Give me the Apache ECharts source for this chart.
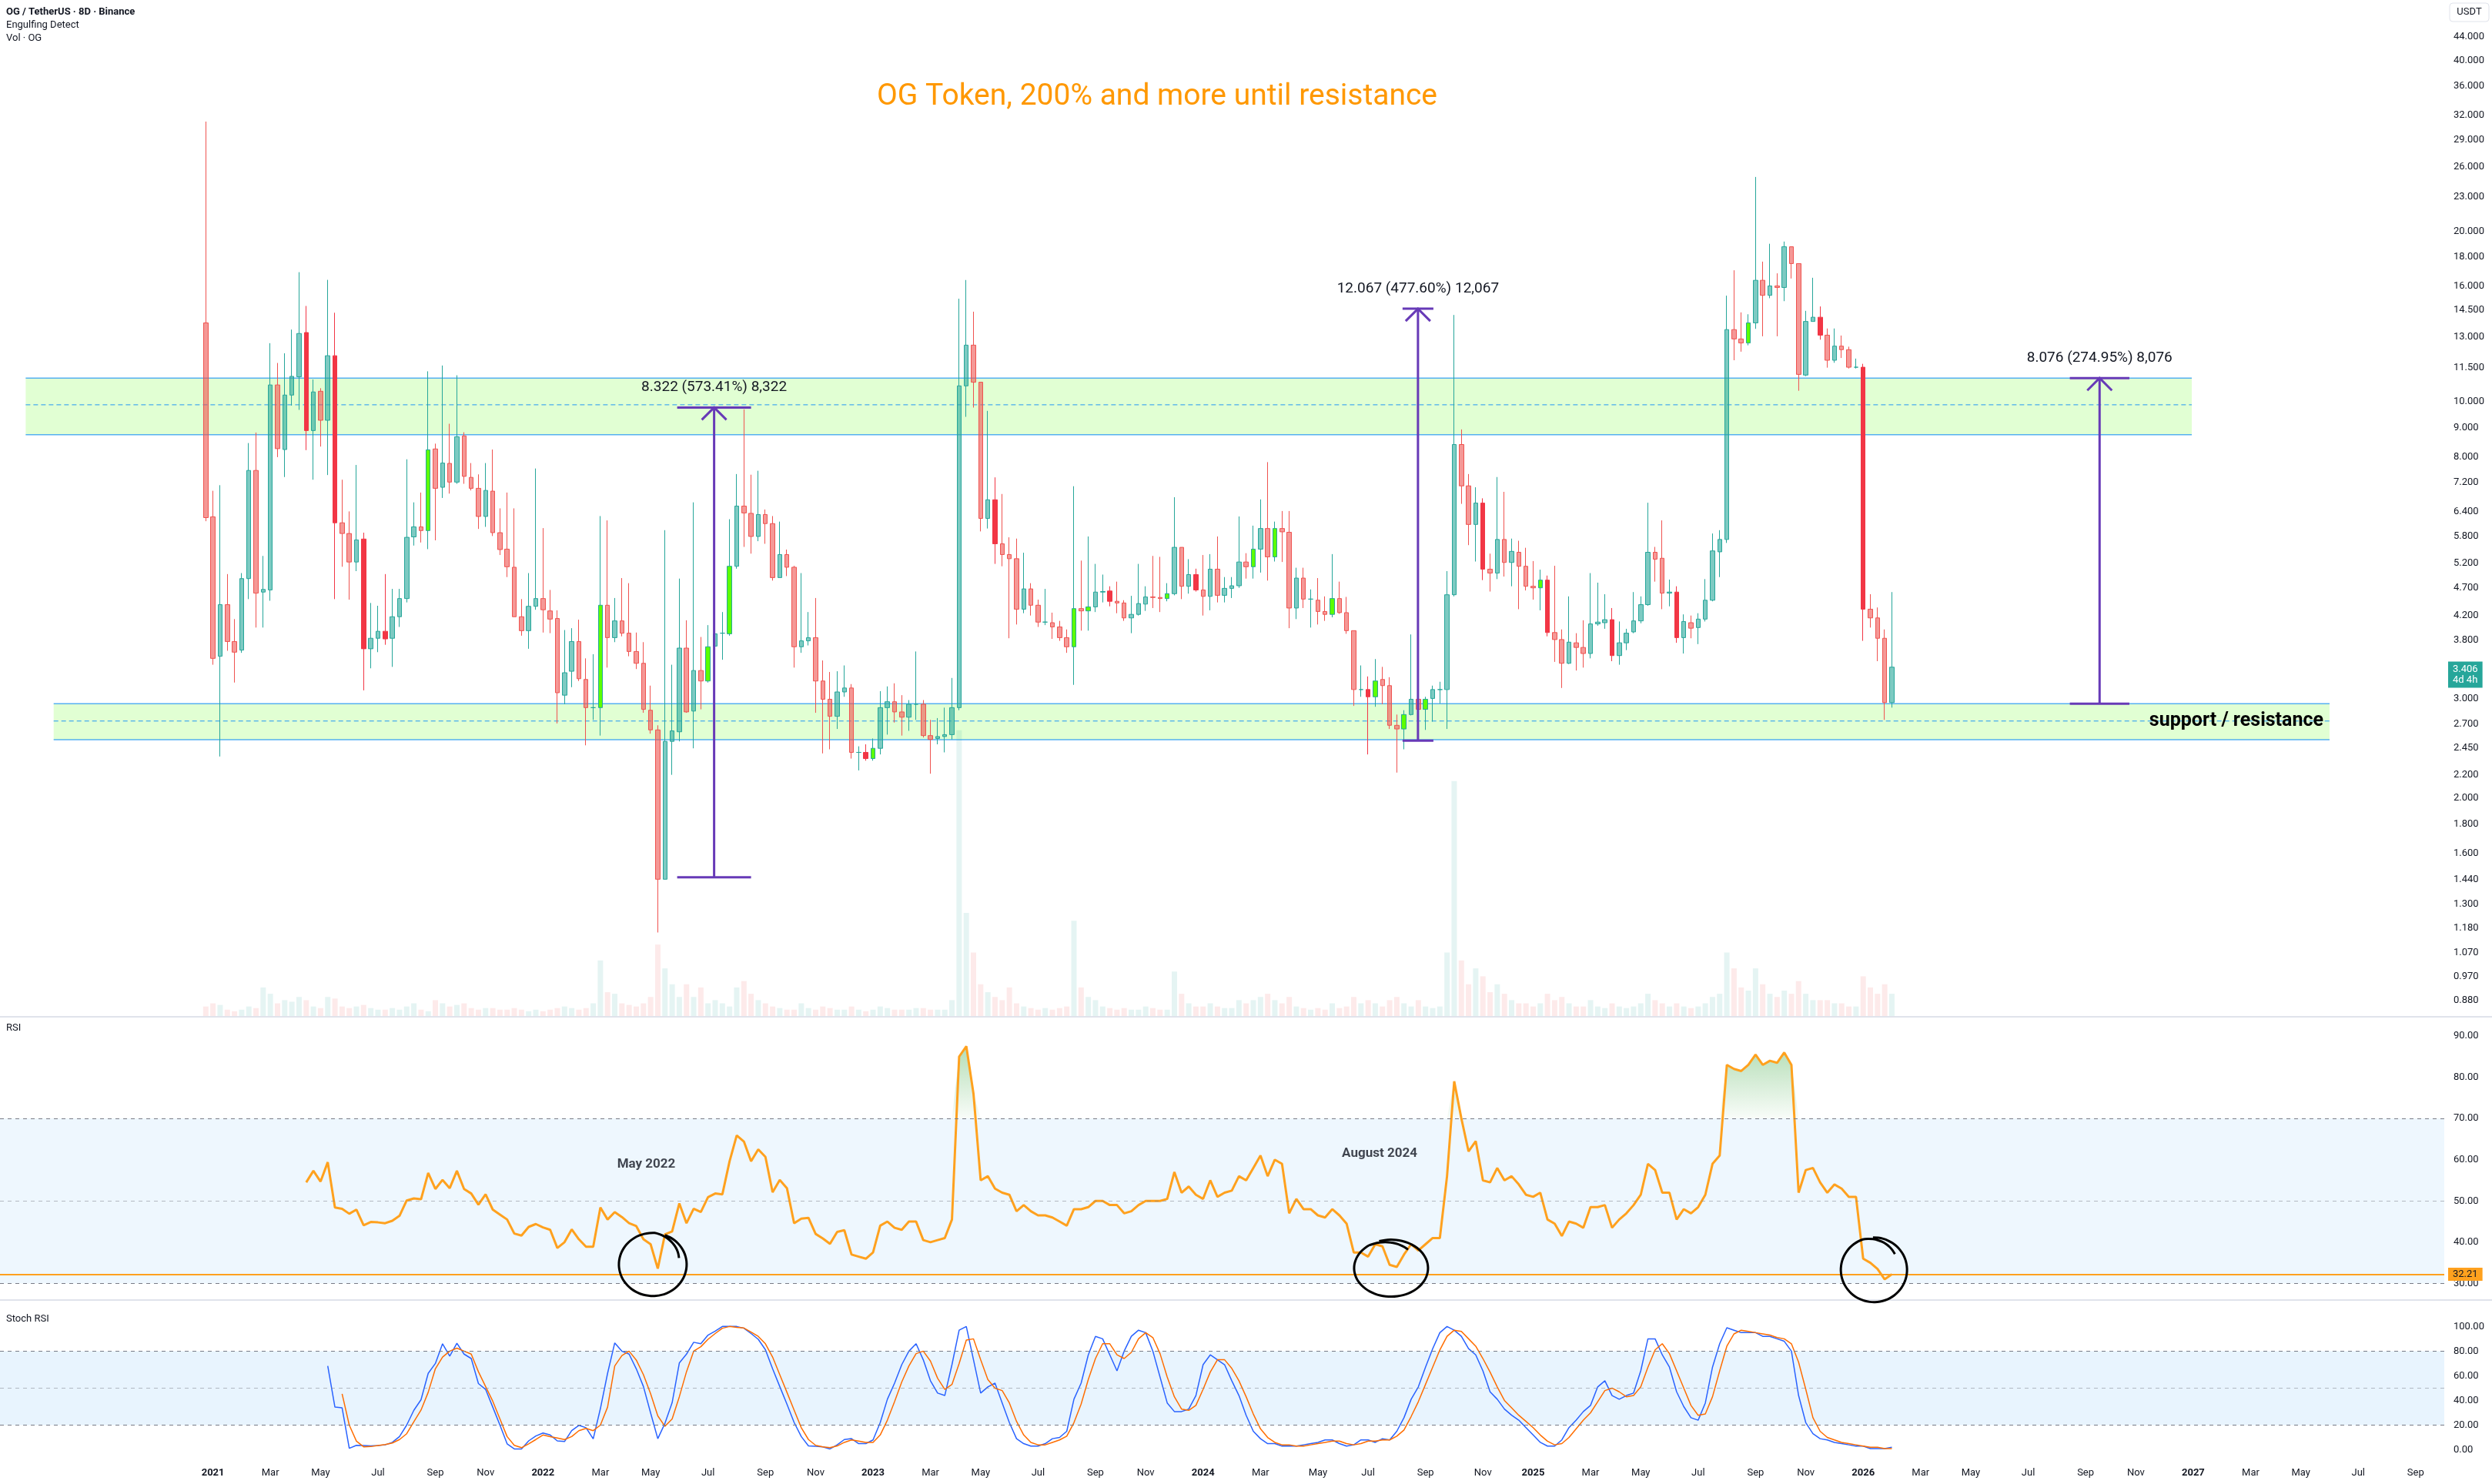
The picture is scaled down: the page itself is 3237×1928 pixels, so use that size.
<!DOCTYPE html>
<html>
<head>
<meta charset="utf-8">
<title>OG / TetherUS 8D</title>
<script src="https://cdn.jsdelivr.net/npm/echarts@6.0.0/dist/echarts.min.js"></script>
<style>
  html, body { margin: 0; padding: 0; background: #ffffff; }
  #chart { width: 3237px; height: 1928px; }
</style>
</head>
<body>
<div id="chart"></div>
<script>
// OG / TetherUS, 8D bars (Binance) with volume, RSI and Stoch RSI panes.
// The x axis counts bars, like TradingView does. 8D bars restart every Jan 1,
// so a year holds 46 bars; bar 0 is the listing bar of late Dec 2020.

var barDays = 8;
var barsPerYear = 46;

// [open, close, low, high]
var candles = [
  [13.78, 6.25, 6.16, 31.2], [6.27, 3.53, 3.44, 6.97], [3.56, 4.39, 2.37, 7.13], [4.39, 3.78, 3.64, 4.97],
  [3.78, 3.62, 3.20, 4.14], [3.65, 4.88, 3.61, 4.99], [4.88, 7.57, 4.49, 8.46], [7.57, 4.60, 4.00, 8.83],
  [4.62, 4.67, 4.00, 5.35], [4.66, 10.71, 4.46, 12.69], [10.71, 8.27, 7.99, 11.71], [8.24, 10.28, 7.37, 12.18],
  [10.28, 11.09, 9.85, 13.41], [11.07, 13.20, 9.68, 16.93], [13.25, 8.90, 8.22, 14.76], [8.90, 10.41, 7.29, 10.95],
  [10.44, 9.28, 8.34, 10.57], [9.28, 12.06, 7.43, 16.41], [12.06, 6.12, 4.49, 14.36], [6.12, 5.86, 5.12, 7.29],
  [5.86, 5.22, 4.48, 6.41], [5.22, 5.71, 5.03, 7.74], [5.73, 3.67, 3.10, 5.88], [3.67, 3.83, 3.39, 4.42],
  [3.83, 3.94, 3.62, 4.37], [3.94, 3.82, 3.73, 4.97], [3.83, 4.18, 3.41, 4.68], [4.18, 4.50, 4.01, 4.68],
  [4.50, 5.77, 4.43, 7.92], [5.78, 6.02, 5.58, 6.65], [6.02, 5.93, 5.65, 6.92], [5.93, 8.23, 5.50, 11.32],
  [8.26, 7.04, 5.70, 8.44], [7.07, 7.80, 6.77, 11.59], [7.79, 7.22, 6.89, 9.15], [7.22, 8.68, 7.17, 11.14],
  [8.71, 7.39, 7.17, 8.84], [7.36, 7.04, 6.98, 7.80], [7.04, 6.28, 5.97, 7.45], [6.28, 6.98, 6.02, 7.80],
  [6.96, 5.88, 5.80, 8.24], [5.88, 5.49, 5.37, 6.49], [5.50, 5.12, 4.91, 6.92], [5.11, 4.18, 4.18, 6.49],
  [4.18, 3.95, 3.87, 4.49], [3.95, 4.36, 3.67, 4.99], [4.36, 4.50, 4.30, 7.63], [4.50, 4.30, 3.92, 5.99],
  [4.28, 4.14, 3.91, 4.66], [4.15, 3.07, 2.71, 4.29], [3.04, 3.33, 2.93, 3.96], [3.35, 3.78, 3.14, 3.99],
  [3.78, 3.25, 3.22, 4.13], [3.24, 2.89, 2.48, 3.53], [2.89, 2.89, 2.75, 3.59], [2.89, 4.38, 2.58, 6.29],
  [4.38, 3.84, 3.40, 6.18], [3.84, 4.11, 3.77, 4.51], [4.11, 3.91, 3.86, 4.89], [3.91, 3.63, 3.56, 4.79],
  [3.63, 3.46, 3.38, 3.92], [3.46, 2.87, 2.83, 3.77], [2.86, 2.64, 2.60, 3.16], [2.64, 1.44, 1.16, 2.69],
  [1.44, 2.52, 1.44, 5.94], [2.52, 2.63, 2.20, 3.44], [2.62, 3.68, 2.52, 4.88], [3.68, 2.84, 2.83, 4.12],
  [2.85, 3.36, 2.45, 6.65], [3.36, 3.22, 2.87, 3.85], [3.22, 3.70, 3.20, 4.04], [3.71, 3.90, 3.22, 3.94],
  [3.91, 3.91, 3.51, 4.26], [3.90, 5.13, 3.87, 6.21], [5.13, 6.55, 5.08, 7.46], [6.55, 6.37, 5.55, 9.70],
  [6.36, 5.79, 5.40, 7.44], [5.79, 6.33, 5.68, 7.56], [6.33, 6.10, 5.62, 6.46], [6.10, 4.90, 4.84, 6.29],
  [4.90, 5.38, 4.90, 6.15], [5.38, 5.11, 4.93, 5.49], [5.11, 3.70, 3.40, 5.14], [3.70, 3.79, 3.61, 4.99],
  [3.79, 3.84, 3.72, 4.26], [3.84, 3.22, 2.83, 4.51], [3.22, 2.99, 2.40, 3.50], [2.99, 2.79, 2.44, 3.34],
  [2.79, 3.08, 2.65, 3.35], [3.08, 3.13, 3.02, 3.43], [3.13, 2.41, 2.35, 3.18], [2.41, 2.41, 2.24, 2.47],
  [2.41, 2.35, 2.33, 2.49], [2.35, 2.45, 2.33, 2.55], [2.45, 2.89, 2.39, 3.09], [2.89, 2.96, 2.59, 3.15],
  [2.96, 2.84, 2.72, 3.19], [2.84, 2.78, 2.58, 3.04], [2.78, 2.93, 2.63, 2.98], [2.93, 2.93, 2.75, 3.63],
  [2.93, 2.58, 2.56, 2.98], [2.58, 2.54, 2.21, 2.75], [2.55, 2.57, 2.49, 2.77], [2.57, 2.59, 2.41, 2.89],
  [2.59, 2.89, 2.54, 3.26], [2.89, 10.67, 2.86, 15.20], [10.67, 12.59, 9.41, 16.40], [12.59, 10.83, 9.77, 14.42],
  [10.83, 6.23, 5.91, 10.83], [6.23, 6.72, 5.98, 9.64], [6.72, 5.62, 5.18, 7.36], [5.62, 5.38, 5.13, 6.88],
  [5.38, 5.29, 3.83, 5.77], [5.29, 4.31, 4.05, 5.74], [4.31, 4.68, 4.24, 5.42], [4.68, 4.38, 4.20, 4.79],
  [4.38, 4.09, 4.01, 4.48], [4.09, 4.09, 4.04, 4.68], [4.08, 4.01, 3.82, 4.25], [4.01, 3.84, 3.79, 4.11],
  [3.84, 3.70, 3.61, 3.97], [3.70, 4.32, 3.17, 7.10], [4.32, 4.28, 3.95, 5.25], [4.28, 4.35, 3.95, 5.79],
  [4.35, 4.62, 4.26, 5.18], [4.62, 4.63, 4.43, 4.96], [4.64, 4.45, 4.36, 4.73], [4.45, 4.42, 4.24, 4.82],
  [4.42, 4.16, 4.11, 4.47], [4.16, 4.22, 3.91, 4.55], [4.22, 4.41, 4.20, 5.18], [4.40, 4.53, 4.28, 4.73],
  [4.53, 4.52, 4.33, 5.35], [4.52, 4.50, 4.26, 5.33], [4.50, 4.59, 4.45, 4.79], [4.59, 5.54, 4.56, 6.79],
  [5.54, 4.73, 4.49, 5.54], [4.73, 4.96, 4.59, 5.28], [4.96, 4.66, 4.63, 5.08], [4.66, 4.54, 4.20, 5.37],
  [4.54, 5.07, 4.29, 5.39], [5.07, 4.56, 4.43, 5.79], [4.56, 4.69, 4.43, 4.91], [4.69, 4.74, 4.51, 4.91],
  [4.74, 5.22, 4.70, 6.28], [5.22, 5.12, 4.88, 5.41], [5.12, 5.50, 4.88, 6.05], [5.50, 5.98, 5.00, 6.73],
  [5.98, 5.33, 4.84, 7.83], [5.33, 5.98, 5.23, 6.15], [5.98, 5.90, 5.22, 6.42], [5.89, 4.33, 3.99, 6.42],
  [4.33, 4.89, 4.14, 5.10], [4.89, 4.49, 4.33, 5.10], [4.49, 4.49, 4.00, 4.67], [4.47, 4.27, 4.05, 4.89],
  [4.27, 4.22, 4.11, 4.54], [4.22, 4.50, 4.17, 5.39], [4.50, 4.25, 4.23, 4.82], [4.25, 3.95, 3.90, 4.53],
  [3.95, 3.11, 2.91, 3.95], [3.11, 3.11, 3.02, 3.43], [3.11, 3.02, 2.39, 3.28], [3.02, 3.22, 2.90, 3.52],
  [3.24, 3.16, 2.93, 3.41], [3.16, 2.69, 2.65, 3.27], [2.69, 2.65, 2.22, 2.81], [2.65, 2.81, 2.44, 2.86],
  [2.81, 2.99, 2.80, 3.89], [2.99, 2.87, 2.71, 3.34], [2.87, 2.99, 2.64, 3.02], [3.00, 3.11, 2.73, 3.16],
  [3.11, 3.11, 2.94, 3.21], [3.11, 4.57, 2.65, 5.03], [4.57, 8.41, 4.54, 14.23], [8.41, 7.11, 6.61, 8.94],
  [7.11, 6.08, 5.59, 7.46], [6.08, 6.63, 5.23, 7.07], [6.63, 5.07, 4.85, 6.76], [5.07, 4.99, 4.63, 5.40],
  [4.99, 5.72, 4.87, 7.37], [5.72, 5.21, 4.92, 6.94], [5.21, 5.45, 4.73, 5.74], [5.43, 5.13, 4.31, 5.69],
  [5.13, 4.73, 4.65, 5.53], [4.73, 4.70, 4.48, 5.24], [4.70, 4.85, 4.29, 5.06], [4.85, 3.92, 3.86, 4.94],
  [3.92, 3.81, 3.48, 5.14], [3.81, 3.46, 3.13, 3.97], [3.46, 3.77, 3.45, 4.54], [3.76, 3.69, 3.36, 3.91],
  [3.69, 3.60, 3.40, 4.12], [3.60, 4.06, 3.53, 4.99], [4.06, 4.09, 4.03, 4.80], [4.08, 4.13, 3.98, 4.58],
  [4.13, 3.57, 3.49, 4.33], [3.57, 3.76, 3.44, 4.10], [3.76, 3.91, 3.65, 3.98], [3.93, 4.11, 3.91, 4.62],
  [4.11, 4.39, 4.07, 4.54], [4.39, 5.43, 4.37, 6.64], [5.43, 5.28, 4.82, 5.55], [5.30, 4.60, 4.31, 6.18],
  [4.60, 4.62, 4.36, 4.86], [4.62, 3.84, 3.76, 4.73], [3.84, 4.10, 3.60, 4.22], [4.08, 3.99, 3.83, 4.20],
  [4.00, 4.14, 3.74, 4.24], [4.14, 4.47, 4.10, 4.87], [4.47, 5.46, 4.45, 5.86], [5.44, 5.72, 4.91, 5.94],
  [5.72, 13.41, 5.64, 15.39], [13.41, 12.91, 11.84, 17.06], [12.91, 12.70, 12.26, 14.38], [12.70, 13.78, 12.58, 14.27],
  [13.78, 16.38, 13.45, 24.92], [16.38, 15.41, 13.05, 17.67], [15.41, 16.01, 15.23, 19.00], [16.01, 15.91, 13.05, 16.85],
  [15.91, 18.77, 15.05, 19.17], [18.77, 17.53, 16.50, 18.77], [17.53, 11.18, 10.46, 17.53], [11.15, 13.86, 11.10, 14.47],
  [13.86, 14.10, 13.86, 16.55], [14.10, 13.11, 12.87, 14.73], [13.11, 11.84, 11.49, 13.47], [11.84, 12.54, 11.72, 13.47],
  [12.54, 12.36, 11.95, 13.09], [12.36, 11.51, 11.45, 12.51], [11.51, 11.51, 11.45, 11.92], [11.51, 4.31, 3.79, 11.67],
  [4.31, 4.16, 4.00, 4.58], [4.16, 3.83, 3.49, 4.34], [3.83, 2.95, 2.75, 3.97], [2.95, 3.406, 2.89, 4.62]
];

// bars flagged by the Engulfing Detect script
var bullEngulf = [31, 55, 70, 73, 93, 121, 123, 134, 146, 149, 157, 163, 167, 170, 186, 215];
var bearEngulf = [14, 18, 22, 25, 92, 110, 126, 138, 162, 178, 187, 196, 205, 225, 231];

// volume, relative units
var volumes = [
  6, 8, 7, 4, 3, 4, 6, 5, 18, 14,
  8, 10, 9, 12, 10, 6, 5, 12, 11, 6,
  5, 6, 7, 5, 4, 4, 5, 4, 6, 8,
  4, 3, 10, 8, 6, 7, 8, 5, 4, 5,
  5, 4, 4, 5, 4, 3, 4, 3, 4, 5,
  6, 5, 4, 5, 8, 35, 15, 14, 8, 7,
  6, 8, 12, 45, 30, 20, 12, 20, 12, 18,
  8, 10, 8, 6, 18, 22, 14, 10, 8, 6,
  5, 4, 4, 8, 5, 4, 6, 5, 4, 4,
  6, 4, 3, 4, 6, 5, 4, 4, 4, 5,
  5, 4, 4, 4, 10, 180, 65, 40, 20, 15,
  12, 10, 18, 8, 6, 5, 4, 5, 4, 5,
  6, 60, 18, 12, 10, 6, 5, 4, 5, 4,
  4, 6, 5, 4, 4, 28, 14, 8, 6, 6,
  8, 6, 5, 5, 10, 8, 10, 12, 14, 10,
  8, 12, 6, 5, 4, 5, 4, 8, 5, 6,
  12, 8, 10, 8, 6, 10, 12, 8, 6, 10,
  6, 5, 6, 40, 148, 35, 20, 30, 25, 15,
  20, 14, 10, 8, 8, 6, 8, 14, 10, 12,
  8, 6, 6, 10, 6, 5, 8, 6, 5, 6,
  8, 14, 10, 8, 6, 8, 6, 5, 6, 8,
  12, 14, 40, 30, 18, 16, 30, 20, 14, 12,
  16, 14, 22, 14, 10, 10, 10, 8, 8, 6,
  6, 25, 18, 14, 20, 14
];

// RSI (14)
var rsiValues = [
  null, null, null, null, null, null, null, null, null, null, null, null, null, null,
  54.5, 57.3, 54.7, 59.4, 48.4, 48.1, 46.9, 47.9, 44.1, 44.9,
  44.8, 44.6, 45.2, 46.4, 50.1, 50.6, 50.4, 56.8, 52.9, 55.1,
  53.1, 57.3, 52.9, 51.8, 49.1, 51.6, 47.9, 46.7, 45.5, 42.1,
  41.6, 43.7, 44.4, 43.6, 43.0, 38.6, 40.0, 43.1, 40.7, 38.9,
  38.9, 48.4, 45.5, 47.3, 46.1, 44.6, 43.9, 40.7, 39.5, 33.6,
  41.9, 42.6, 49.4, 44.6, 48.1, 47.3, 50.9, 51.8, 51.6, 59.6,
  65.9, 64.4, 59.6, 62.5, 60.7, 52.1, 55.1, 53.1, 44.6, 45.7,
  45.9, 42.0, 40.9, 39.6, 42.5, 42.9,
  37, 36.5, 36, 37.5, 44, 45, 43.5, 43, 45, 45,
  40.5, 40, 40.5, 41, 45.5, 85, 87.5, 76, 55, 56,
  53, 52, 51.5, 47.5, 49, 47.5, 46.5, 46.5, 46, 45,
  44, 48, 48, 48.5, 50, 50, 49, 49, 47, 47.5,
  49, 50, 50, 50, 50.5, 57, 52, 53.5, 51.5, 50.5,
  55, 51, 52, 52.5, 56, 55, 58, 61, 56, 60,
  59, 47, 50.5, 48, 48, 46.5, 46, 48, 46.5, 44.5,
  37.5, 37.5, 36.5, 39.5, 39, 34.5, 34, 37, 39.5, 38,
  39.5, 41, 41, 56, 79, 70, 62, 64.5, 55, 54.5,
  58, 55, 56, 54, 51.5, 51, 52, 45.5, 44.5, 41.5,
  45, 44.5, 43.5, 48.5, 48.5, 49, 43.5, 45.5, 47, 49,
  51.5, 59, 57.5, 52, 52, 45.5, 48, 47, 48.5, 51.5,
  59, 61, 83, 82, 81.5, 83, 85.5, 83, 84, 83.5,
  86, 83, 52, 57.5, 58, 54.5, 52, 54, 53, 51,
  51, 36, 35, 33.5, 31, 32.21
];

// Stoch RSI %K and %D
var stochK = [
  null, null, null, null, null, null, null, null, null, null, null, null, null, null, null, null, null,
  68, 34.6, 34, 1.2, 3.6, 3.5, 3.2, 3.5, 4, 6, 10.7, 20, 32,
  40.6, 62, 70, 86, 76, 86.4, 77.6, 74, 53.7, 49, 34.6, 20, 4.8,
  0.7, 0.7, 7.2, 11.2, 13.6, 12, 7.2, 6.7, 15.5, 19.8, 17.9, 8.8,
  33.4, 62, 86.7, 80, 77.6, 65.7, 51.3, 29.8, 9, 21.5, 38.2, 70.4,
  77.6, 87.2, 86, 93, 96.2, 100, 100, 100, 98.6, 94.3, 89.6, 81.2,
  65.7, 51.3, 37, 22.2, 10.7, 3.1, 2.9, 2.4, 0.7, 4, 8.3,
  9, 5, 5, 8, 22, 41, 54, 69, 80, 86,
  73, 56, 46, 44, 69, 97, 100, 73, 46, 51,
  54, 38, 22, 9, 5, 3, 3, 5, 9, 10,
  15, 41, 54, 77, 92, 90, 77, 64, 80, 92,
  97, 95, 80, 59, 38, 31, 31, 33, 44, 69,
  77, 73, 69, 56, 44, 28, 15, 9, 5, 5,
  3, 3, 3, 4, 5, 6, 8, 8, 5, 3,
  4, 8, 8, 6, 9, 8, 15, 26, 41, 51,
  67, 82, 95, 100, 97, 92, 82, 77, 64, 47,
  41, 33, 28, 24, 18, 12, 6, 3, 3, 8,
  18, 24, 31, 36, 51, 56, 44, 41, 44, 46,
  64, 90, 90, 77, 67, 47, 35, 26, 24, 38,
  67, 86, 99, 97, 95, 95, 95, 92, 92, 90,
  88, 80, 44, 22, 13, 9, 8, 6, 5, 4,
  3, 3, 1, 1, 1, 2
];
var stochD = [
  null, null, null, null, null, null, null, null, null, null, null, null, null, null, null, null, null, null, null,
  45.4, 20, 7, 2.4, 2.6, 3.5, 4.2, 5.5, 8.3, 13, 22.7,
  32.2, 46.6, 65.7, 75.2, 80, 82.4, 80, 77.6, 63.3, 51.3,
  39.4, 25, 10.7, 3.6, 1.7, 4.8, 8.3, 12, 10.7, 9.5,
  8.3, 10.7, 15.5, 17.4, 15.5, 20, 34.6, 68, 76.4, 80,
  72.8, 60.9, 45.4, 27.5, 19, 25, 43, 63.3, 80, 83.6,
  89.6, 94.3, 98.6, 100, 99.3, 98.8, 95.5, 92, 86, 75.2,
  60.9, 46.6, 32.2, 17.9, 8.3, 3.6, 2.4, 1.7, 3.1, 6,
  8, 7, 6, 6, 12, 24, 39, 55, 68, 78,
  80, 72, 58, 49, 53, 70, 89, 90, 73, 57,
  50, 48, 38, 23, 12, 6, 4, 4, 6, 8,
  11, 22, 37, 57, 74, 86, 86, 77, 74, 79,
  90, 95, 91, 78, 59, 43, 33, 32, 36, 49,
  63, 73, 73, 66, 56, 43, 29, 17, 10, 6,
  4, 4, 3, 3, 4, 5, 6, 7, 7, 5,
  4, 5, 7, 7, 8, 8, 11, 16, 27, 39,
  53, 67, 81, 92, 97, 96, 90, 84, 74, 63,
  51, 40, 34, 28, 23, 18, 12, 7, 4, 5,
  10, 17, 24, 30, 39, 48, 50, 47, 43, 44,
  51, 67, 81, 86, 78, 64, 50, 36, 28, 29,
  43, 64, 84, 94, 97, 96, 95, 94, 93, 91,
  90, 86, 71, 49, 26, 15, 10, 8, 6, 5,
  4, 3, 2, 2, 1, 1
];

// tick labels
var priceTicks = [44, 40, 36, 32, 29, 26, 23, 20, 18, 16, 14.5, 13, 11.5, 10, 9, 8, 7.2, 6.4, 5.8, 5.2,
  4.7, 4.2, 3.8, 3.0, 2.7, 2.45, 2.2, 2.0, 1.8, 1.6, 1.44, 1.3, 1.18, 1.07, 0.97, 0.88];
var rsiTicks = [30, 40, 50, 60, 70, 80, 90];
var stochTicks = [0, 20, 40, 60, 80, 100];
var monthNames = ['Jan', 'Feb', 'Mar', 'Apr', 'May', 'Jun', 'Jul', 'Aug', 'Sep', 'Oct', 'Nov', 'Dec'];

// drawings on the price pane (x in bars)
var zoneStart = [-25.1, -21.2];
var zoneEnd = [276.8, 296.0];
var zoneTop = [11.013, 2.937];
var zoneBottom = [8.75, 2.537];
var zoneText = ['', 'support / resistance'];

// price range measurements
var measureStart = [65.7, 166.8, 259.8];
var measureEnd = [76.0, 171.1, 268.1];
var measureLow = [1.4513, 2.5266, 2.9373];
var measureHigh = [9.7733, 14.594, 11.013];
var measureLabels = ['8.322 (573.41%) 8,322', '12.067 (477.60%) 12,067', '8.076 (274.95%) 8,076'];

// notes on the RSI pane
var noteTexts = ['May 2022', 'August 2024'];
var noteBars = [61.4, 163.6];
var noteValues = [58.8, 61.4];
var circleBars = [62.3, 165.2, 232.5];
var circleValues = [34.6, 33.7, 33.3];

var xMin = -28.68;
var xMax = 311.99;

// ---------------------------------------------------------------

function lg(v) { return Math.log10(v); }

// open date of bar i
function barDate(i) {
  if (i < 1) return new Date(Date.UTC(2020, 11, 26));
  var y = 2021 + Math.floor((i - 1) / barsPerYear);
  var j = (i - 1) % barsPerYear;
  return new Date(Date.UTC(y, 0, 1 + barDays * j));
}

// month labels sit on the first bar of every other month
var monthTicks = [], monthText = {};
for (var b = 1; b <= Math.floor(xMax); b++) {
  var d = barDate(b), p = barDate(b - 1);
  if (d.getUTCMonth() !== p.getUTCMonth() && d.getUTCMonth() % 2 === 0) {
    monthTicks.push(b);
    monthText[b] = d.getUTCMonth() === 0 ? '{yr|' + d.getUTCFullYear() + '}' : monthNames[d.getUTCMonth()];
  }
}

var FONT = 'Roboto, "Noto Sans", sans-serif';
var TEXT = '#131722';
var BULL = '#26A69A', BEAR = '#EF5350';

var candleData = candles.map(function (c, i) {
  var item = { value: [i, lg(c[0]), lg(c[1]), lg(c[2]), lg(c[3])] };
  if (bearEngulf.indexOf(i) >= 0) {
    item.itemStyle = { color: '#F23645', color0: '#F23645', borderColor: '#F23645', borderColor0: '#F23645' };
  } else if (bullEngulf.indexOf(i) >= 0) {
    item.itemStyle = { color: '#5CFF00', color0: '#5CFF00', borderColor: BULL, borderColor0: BULL };
  }
  return item;
});

var volumeData = volumes.map(function (v, i) {
  var up = candles[i][1] >= candles[i][0];
  return { value: [i, v], itemStyle: { color: up ? 'rgba(38,166,154,0.12)' : 'rgba(239,83,80,0.12)' } };
});

function pairs(arr) {
  var out = [];
  arr.forEach(function (v, i) { if (v != null) out.push([i, v]); });
  return out;
}
var rsiData = pairs(rsiValues);
var obData = rsiData.map(function (q) { return [q[0], Math.max(q[1], 70)]; });
var kData = pairs(stochK);
var dData = pairs(stochD);

var zoneData = zoneStart.map(function (s, i) {
  return [s, zoneEnd[i], lg(zoneTop[i]), lg(zoneBottom[i]), lg((zoneTop[i] + zoneBottom[i]) / 2)];
});
var measureData = measureStart.map(function (s, i) {
  return [s, measureEnd[i], lg(measureLow[i]), lg(measureHigh[i])];
});
var noteData = noteTexts.map(function (t, i) {
  return { name: t, value: [noteBars[i], noteValues[i]] };
});
var circleData = circleBars.map(function (s, i) { return [s, circleValues[i]]; });

// hand drawn loops: radius x, radius y, start angle
var loopShape = [[44, 41, -1.2], [48, 37, -1.9], [43, 42, -1.6]];

function renderZone(params, api) {
  var i = params.dataIndex;
  var tl = api.coord([api.value(0), api.value(2)]);
  var br = api.coord([api.value(1), api.value(3)]);
  var ym = api.coord([api.value(0), api.value(4)])[1];
  var edge = { stroke: 'rgba(33,150,243,0.75)', lineWidth: 1.5 };
  var kids = [
    { type: 'rect', shape: { x: tl[0], y: tl[1], width: br[0] - tl[0], height: br[1] - tl[1] },
      style: { fill: 'rgba(170,255,130,0.35)' } },
    { type: 'line', shape: { x1: tl[0], y1: tl[1], x2: br[0], y2: tl[1] }, style: edge },
    { type: 'line', shape: { x1: tl[0], y1: br[1], x2: br[0], y2: br[1] }, style: edge },
    { type: 'line', shape: { x1: tl[0], y1: ym, x2: br[0], y2: ym },
      style: { stroke: '#2196F3', lineWidth: 1, lineDash: [6, 4] } }
  ];
  if (zoneText[i]) {
    kids.push({ type: 'text', x: br[0] - 8, y: ym,
      style: { text: zoneText[i], fill: '#000', font: 'bold 25px ' + FONT, align: 'right', verticalAlign: 'middle' } });
  }
  return { type: 'group', children: kids };
}

function renderMeasure(params, api) {
  var i = params.dataIndex;
  var x0 = api.coord([api.value(0), api.value(3)])[0];
  var x1 = api.coord([api.value(1), api.value(3)])[0];
  var yHi = api.coord([api.value(0), api.value(3)])[1];
  var yLo = api.coord([api.value(0), api.value(2)])[1];
  var xm = (x0 + x1) / 2;
  var st = { stroke: '#673AB7', lineWidth: 3 };
  return { type: 'group', children: [
    { type: 'line', shape: { x1: xm, y1: yLo, x2: xm, y2: yHi }, style: st },
    { type: 'line', shape: { x1: x0, y1: yLo, x2: x1, y2: yLo }, style: st },
    { type: 'line', shape: { x1: x0, y1: yHi, x2: x1, y2: yHi }, style: st },
    { type: 'polyline', shape: { points: [[xm - 16, yHi + 16], [xm, yHi], [xm + 16, yHi + 16]] },
      style: { stroke: '#673AB7', lineWidth: 3, fill: 'none' } },
    { type: 'text', x: xm, y: yHi - 26,
      style: { text: measureLabels[i], fill: TEXT, font: '19px ' + FONT, align: 'center', verticalAlign: 'middle' } }
  ] };
}

function renderLoop(params, api) {
  var c = api.coord([api.value(0), api.value(1)]);
  var s = loopShape[params.dataIndex];
  var pts = [];
  for (var k = 0; k <= 46; k++) {
    var th = s[2] + k / 40 * Math.PI * 2;
    var f = 1 - Math.max(0, k - 38) * 0.025;
    pts.push([c[0] + s[0] * f * Math.cos(th), c[1] + s[1] * f * Math.sin(th)]);
  }
  return { type: 'polyline', shape: { points: pts, smooth: 0.3 },
    style: { stroke: '#000', lineWidth: 3, fill: 'none' } };
}

function hLine(v, color) {
  return { yAxis: v, lineStyle: { color: color, width: 1, type: [5, 5] }, label: { show: false } };
}

var chart = echarts.init(document.getElementById('chart'));

var hiddenX = { type: 'value', min: xMin, max: xMax, show: false, splitLine: { show: false } };

chart.setOption({
  animation: false,
  backgroundColor: '#ffffff',
  textStyle: { fontFamily: FONT },
  grid: [
    { left: 0, top: 0, width: 3175, height: 1320 },
    { left: 0, top: 1322, width: 3175, height: 367 },
    { left: 0, top: 1690, width: 3175, height: 205 }
  ],
  xAxis: [
    Object.assign({ gridIndex: 0 }, hiddenX),
    Object.assign({ gridIndex: 1 }, hiddenX),
    {
      type: 'value', gridIndex: 2, min: xMin, max: xMax,
      axisLine: { show: false }, axisTick: { show: false }, splitLine: { show: false },
      axisLabel: {
        customValues: monthTicks, margin: 12, fontSize: 13, color: TEXT, fontFamily: FONT,
        formatter: function (v) { return monthText[Math.round(v)] || ''; },
        rich: { yr: { fontWeight: 'bold', fontSize: 13, color: TEXT, fontFamily: FONT } }
      }
    }
  ],
  yAxis: [
    {
      type: 'value', gridIndex: 0, position: 'right', min: lg(0.8264), max: lg(51.11),
      axisLine: { show: false }, axisTick: { show: false }, splitLine: { show: false },
      axisLabel: {
        customValues: priceTicks.map(lg), align: 'left', margin: 12, fontSize: 13, color: TEXT, fontFamily: FONT,
        formatter: function (v) { return Math.pow(10, v).toFixed(3); }
      }
    },
    { type: 'value', gridIndex: 0, min: 0, max: 640, show: false },
    {
      type: 'value', gridIndex: 1, position: 'right', min: 25.97, max: 94.47,
      axisLine: { show: false }, axisTick: { show: false }, splitLine: { show: false },
      axisLabel: {
        customValues: rsiTicks, align: 'left', margin: 12, fontSize: 13, color: TEXT, fontFamily: FONT,
        formatter: function (v) { return v.toFixed(2); }
      }
    },
    {
      type: 'value', gridIndex: 2, position: 'right', min: -7.16, max: 120.83,
      axisLine: { show: false }, axisTick: { show: false }, splitLine: { show: false },
      axisLabel: {
        customValues: stochTicks, align: 'left', margin: 12, fontSize: 13, color: TEXT, fontFamily: FONT,
        formatter: function (v) { return v.toFixed(2); }
      }
    }
  ],
  series: [
    {
      name: 'zones', type: 'custom', xAxisIndex: 0, yAxisIndex: 0, z: 1, silent: true,
      renderItem: renderZone, data: zoneData, encode: { x: [0, 1], y: [2, 3] }
    },
    {
      name: 'Vol', type: 'bar', xAxisIndex: 0, yAxisIndex: 1, barWidth: 7, z: 1, silent: true,
      data: volumeData
    },
    {
      name: 'OG', type: 'candlestick', xAxisIndex: 0, yAxisIndex: 0, barWidth: 6, z: 3, silent: true,
      itemStyle: {
        color: 'rgba(38,166,154,0.6)', color0: 'rgba(239,83,80,0.6)',
        borderColor: BULL, borderColor0: BEAR, borderWidth: 1
      },
      data: candleData,
      markLine: {
        symbol: 'none', silent: true,
        data: [{ yAxis: lg(candles[candles.length - 1][1]) }],
        lineStyle: { color: 'transparent', width: 0 },
        label: {
          show: true, position: 'end', distance: 5, offset: [0, 8],
          formatter: candles[candles.length - 1][1].toFixed(3) + '\n4d 4h',
          backgroundColor: BULL, color: '#ffffff', padding: [3, 6], fontSize: 13, lineHeight: 14, fontFamily: FONT
        }
      }
    },
    {
      name: 'measure', type: 'custom', xAxisIndex: 0, yAxisIndex: 0, z: 5, silent: true,
      renderItem: renderMeasure, data: measureData, encode: { x: [0, 1], y: [2, 3] }
    },
    {
      name: 'RSI band', type: 'line', xAxisIndex: 1, yAxisIndex: 2, z: 2, silent: true,
      data: obData, showSymbol: false,
      lineStyle: { opacity: 0 },
      areaStyle: {
        origin: 70,
        color: new echarts.graphic.LinearGradient(0, 0, 0, 1, [
          { offset: 0, color: 'rgba(76,175,80,0.6)' },
          { offset: 1, color: 'rgba(76,175,80,0.05)' }
        ])
      },
      markArea: {
        silent: true, itemStyle: { color: 'rgba(33,150,243,0.08)' },
        data: [[{ yAxis: 30 }, { yAxis: 70 }]]
      },
      markLine: {
        symbol: 'none', silent: true,
        data: [hLine(70, '#787B86'), hLine(50, 'rgba(120,123,134,0.5)'), hLine(30, '#787B86')]
      }
    },
    {
      name: 'RSI', type: 'line', xAxisIndex: 1, yAxisIndex: 2, z: 4, silent: true,
      data: rsiData, showSymbol: false,
      lineStyle: { color: '#FFA11E', width: 3 },
      markLine: {
        symbol: 'none', silent: true,
        data: [{
          yAxis: rsiValues[rsiValues.length - 1],
          lineStyle: { color: '#FFA11E', width: 2, type: 'solid' },
          label: {
            show: true, position: 'end', distance: 5,
            formatter: rsiValues[rsiValues.length - 1].toFixed(2),
            backgroundColor: '#FFA11E', color: TEXT, padding: [2, 6], fontSize: 13, fontFamily: FONT
          }
        }]
      }
    },
    {
      name: 'notes', type: 'scatter', xAxisIndex: 1, yAxisIndex: 2, z: 6, silent: true,
      symbolSize: 1, itemStyle: { color: 'transparent' },
      label: { show: true, position: 'inside', formatter: '{b}', fontWeight: 'bold', fontSize: 17, color: TEXT, fontFamily: FONT },
      data: noteData
    },
    {
      name: 'loops', type: 'custom', xAxisIndex: 1, yAxisIndex: 2, z: 6, silent: true,
      renderItem: renderLoop, data: circleData
    },
    {
      name: 'K', type: 'line', xAxisIndex: 2, yAxisIndex: 3, z: 4, silent: true,
      data: kData, showSymbol: false, lineStyle: { color: '#2962FF', width: 1.5 },
      markArea: {
        silent: true, itemStyle: { color: 'rgba(33,150,243,0.1)' },
        data: [[{ yAxis: 20 }, { yAxis: 80 }]]
      },
      markLine: {
        symbol: 'none', silent: true,
        data: [hLine(80, '#787B86'), hLine(50, 'rgba(120,123,134,0.5)'), hLine(20, '#787B86')]
      }
    },
    {
      name: 'D', type: 'line', xAxisIndex: 2, yAxisIndex: 3, z: 4, silent: true,
      data: dData, showSymbol: false, lineStyle: { color: '#FF6D00', width: 1.5 }
    }
  ],
  graphic: [
    { type: 'line', shape: { x1: 0, y1: 1321, x2: 3237, y2: 1321 }, style: { stroke: '#E0E3EB', lineWidth: 2 } },
    { type: 'line', shape: { x1: 0, y1: 1689, x2: 3237, y2: 1689 }, style: { stroke: '#E0E3EB', lineWidth: 2 } },
    { type: 'text', x: 8, y: 16, style: { text: 'OG / TetherUS · 8D · Binance', font: 'bold 13px ' + FONT, fill: TEXT, verticalAlign: 'middle' } },
    { type: 'text', x: 8, y: 33, style: { text: 'Engulfing Detect', font: '13px ' + FONT, fill: TEXT, verticalAlign: 'middle' } },
    { type: 'text', x: 8, y: 50, style: { text: 'Vol · OG', font: '13px ' + FONT, fill: TEXT, verticalAlign: 'middle' } },
    { type: 'text', x: 1503, y: 126, style: { text: 'OG Token, 200% and more until resistance', font: '39px ' + FONT, fill: '#FF9800', align: 'center', verticalAlign: 'middle' } },
    { type: 'rect', shape: { x: 3182, y: 4, width: 51, height: 24, r: 4 }, style: { fill: '#fff', stroke: '#E0E3EB', lineWidth: 1 } },
    { type: 'text', x: 3207.5, y: 16, style: { text: 'USDT', font: '13px ' + FONT, fill: TEXT, align: 'center', verticalAlign: 'middle' } },
    { type: 'text', x: 8, y: 1336, style: { text: 'RSI', font: '13px ' + FONT, fill: TEXT, verticalAlign: 'middle' } },
    { type: 'text', x: 8, y: 1714, style: { text: 'Stoch RSI', font: '13px ' + FONT, fill: TEXT, verticalAlign: 'middle' } }
  ]
});
</script>
</body>
</html>
